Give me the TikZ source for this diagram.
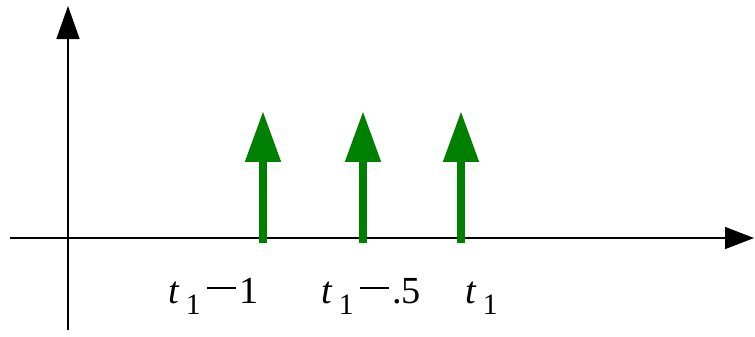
\documentclass[tikz,border=0pt]{standalone}
\usepackage{fontspec}
\setmainfont{Liberation Serif}
\usepackage{tikz}
\usetikzlibrary{arrows.meta}

\definecolor{impgreen}{RGB}{0,128,0}
\newcommand{\tone}{\textit{t}\kern0.16em\raisebox{-0.22cm}{\fontsize{16.8}{18}\selectfont 1}}
\newcommand{\mminus}{\kern0.16em\rule[0.36em]{0.75em}{0.055em}\kern0.1em}

\begin{document}
\begin{tikzpicture}[x=0.02cm, y=-0.02cm]

\useasboundingbox (0,0) rectangle (755,336);

\tikzset{
  axis/.style={line width=0.85pt, black},
  impulse/.style={line width=4.6pt, impgreen, -{Triangle[length=1.02cm, width=0.68cm]}},
  lbl/.style={inner sep=0pt, anchor=base west, font=\fontsize{21.8}{25}\selectfont}
}

\coordinate (xl) at (10,238);
\coordinate (xr) at (754,238);
\coordinate (yb) at (68,330);
\coordinate (yt) at (68,6);

\coordinate (b1) at (263,243);
\coordinate (p1) at (263,111);
\coordinate (b2) at (363,243);
\coordinate (p2) at (363,111);
\coordinate (b3) at (461,243);
\coordinate (p3) at (461,111);

\draw[axis, -{Triangle[length=0.58cm, width=0.44cm]}] (xl) -- (xr);
\draw[axis, -{Triangle[length=0.66cm, width=0.46cm]}] (yb) -- (yt);

\draw[impulse] (b1) -- (p1);
\draw[impulse] (b2) -- (p2);
\draw[impulse] (b3) -- (p3);

\node[lbl] (l1) at (168,303) {\tone\mminus1};
\node[lbl] (l2) at (321,303) {\tone\mminus.5};
\node[lbl] (l3) at (465,303) {\tone};
\end{tikzpicture}
\end{document}
